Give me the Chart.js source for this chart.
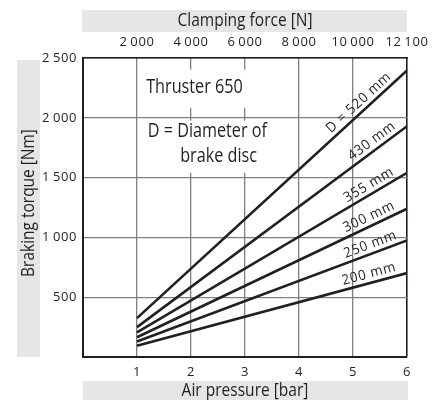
<!DOCTYPE html>
<html>
<head>
<meta charset="utf-8">
<script src="https://cdn.jsdelivr.net/npm/chart.js@4.4.0/dist/chart.umd.min.js"></script>
<style>
html, body { margin: 0; padding: 0; background: #fff; }
#wrap { width: 438px; height: 400px; position: relative; }
</style>
</head>
<body>
<div id="wrap"><canvas id="chart"></canvas></div>
<script>
// data
var pressure = [1, 6]; // bar, start and end of every line
var diameterLabels = ['D = 520 mm', '430 mm', '355 mm', '300 mm', '250 mm', '200 mm'];
var torqueAt1bar = [325, 250, 205, 165, 130, 95];
var torqueAt6bar = [2395, 1930, 1540, 1240, 975, 702];

var pressureTicks = [1, 2, 3, 4, 5, 6];
var forceTickLabels = ['2\u2009000', '4\u2009000', '6\u2009000', '8\u2009000', '10\u2009000', '12\u2009100'];
var torqueTicks = [500, 1000, 1500, 2000, 2500];
var torqueTickLabels = ['500', '1\u2009000', '1\u2009500', '2\u2009000', '2\u2009500'];

var INK = '#231f20';
var GRID = '#808080';
var BOX = '#e6e6e7';
var FONT = '"Open Sans", "Noto Sans", sans-serif';

var datasets = [];
for (let i = 0; i < diameterLabels.length; i++) {
    datasets.push({
        label: diameterLabels[i],
        data: [{x: pressure[0], y: torqueAt1bar[i]}, {x: pressure[1], y: torqueAt6bar[i]}],
        borderColor: INK,
        borderWidth: 2.6,
        pointRadius: 0,
        fill: false
    });
}

// where along each line its label sits (bar) - layout only
var labelAtX = [5.22, 5.45, 5.38, 5.37, 5.38, 5.34];

function condensedText(ctx, text, x, y, size, align, sx, rot) {
    ctx.save();
    ctx.translate(x, y);
    if (rot) ctx.rotate(rot);
    ctx.scale(sx, 1);
    ctx.font = size + 'px ' + FONT;
    ctx.fillStyle = INK;
    ctx.textAlign = align;
    ctx.textBaseline = 'middle';
    ctx.fillText(text, 0, 0);
    ctx.restore();
}

var decor = {
    id: 'decor',
    beforeDraw(chart) {
        const ctx = chart.ctx;
        ctx.save();
        ctx.fillStyle = BOX;
        ctx.fillRect(82, 10, 325, 22);
        ctx.fillRect(17, 60, 23, 297);
        ctx.fillRect(83, 381, 325, 19);
        condensedText(ctx, 'Clamping force [N]', 245, 21, 18.5, 'center', 0.84);
        condensedText(ctx, 'Air pressure [bar]', 245, 390.5, 18.5, 'center', 0.84);
        condensedText(ctx, 'Braking torque [Nm]', 29, 203, 18, 'center', 0.86, -Math.PI / 2);
        ctx.restore();
        ctx.letterSpacing = '0.6px';
    },
    beforeDatasetsDraw(chart) {
        const ctx = chart.ctx;
        const xs = chart.scales.x, ys = chart.scales.y;
        ctx.save();
        ctx.letterSpacing = '0px';
        ctx.fillStyle = '#fff';
        // white panels behind the notes (between the grid rows)
        let l = xs.getPixelForValue(1.06), r1 = xs.getPixelForValue(3.13), r2 = xs.getPixelForValue(3.65);
        ctx.fillRect(l, ys.getPixelForValue(2402), r1 - l, ys.getPixelForValue(2084) - ys.getPixelForValue(2402));
        ctx.fillRect(l, ys.getPixelForValue(1975), r2 - l, ys.getPixelForValue(1540) - ys.getPixelForValue(1975));
        condensedText(ctx, 'Thruster 650', xs.getPixelForValue(1.17), ys.getPixelForValue(2251), 19.5, 'left', 0.83);
        condensedText(ctx, 'D = Diameter of', xs.getPixelForValue(1.2), ys.getPixelForValue(1883), 19.5, 'left', 0.83);
        condensedText(ctx, 'brake disc', xs.getPixelForValue(1.8), ys.getPixelForValue(1674), 19.5, 'left', 0.83);
        ctx.restore();
    },
    afterDatasetsDraw(chart) {
        const ctx = chart.ctx;
        const xs = chart.scales.x, ys = chart.scales.y;
        ctx.save();
        for (let i = 0; i < diameterLabels.length; i++) {
            const x0 = xs.getPixelForValue(pressure[0]), y0 = ys.getPixelForValue(torqueAt1bar[i]);
            const x1 = xs.getPixelForValue(pressure[1]), y1 = ys.getPixelForValue(torqueAt6bar[i]);
            const a = Math.atan2(y1 - y0, x1 - x0);
            const t = (labelAtX[i] - pressure[0]) / (pressure[1] - pressure[0]);
            const px = x0 + (x1 - x0) * t, py = y0 + (y1 - y0) * t;
            const off = 9;
            const cx = px + Math.sin(a) * off, cy = py - Math.cos(a) * off;
            ctx.letterSpacing = '0.8px';
            condensedText(ctx, diameterLabels[i], cx, cy, 14, 'center', 0.95, a);
        }
        ctx.restore();
    }
};

new Chart(document.getElementById('chart'), {
    type: 'line',
    data: {datasets: datasets},
    plugins: [decor],
    options: {
        responsive: true,
        maintainAspectRatio: false,
        animation: false,
        layout: {padding: {left: 0, right: 31, top: 0, bottom: 0}},
        plugins: {legend: {display: false}, tooltip: {enabled: false}},
        scales: {
            x: {
                type: 'linear', position: 'bottom', min: 0, max: 6,
                afterBuildTicks: s => { s.ticks = pressureTicks.map(v => ({value: v})); },
                afterFit: s => { s.height = 43; },
                grid: {
                    color: c => (c.tick && c.tick.value === 6) ? INK : GRID,
                    lineWidth: c => (c.tick && c.tick.value === 6) ? 1.6 : 1.3,
                    drawTicks: false
                },
                border: {color: INK, width: 2},
                ticks: {color: INK, padding: 7, maxRotation: 0, font: {family: FONT, size: 13}}
            },
            x2: {
                type: 'linear', position: 'top', min: 0, max: 6,
                afterBuildTicks: s => { s.ticks = pressureTicks.map(v => ({value: v})); },
                afterFit: s => { s.height = 58; },
                grid: {display: false, drawTicks: false},
                border: {color: INK, width: 1.4},
                ticks: {
                    color: INK, padding: 8, maxRotation: 0, font: {family: FONT, size: 13},
                    callback: v => forceTickLabels[pressureTicks.indexOf(v)]
                }
            },
            y: {
                type: 'linear', min: 0, max: 2500,
                afterBuildTicks: s => { s.ticks = torqueTicks.map(v => ({value: v})); },
                afterFit: s => { s.width = 83; },
                grid: {
                    color: c => (c.tick && c.tick.value === 2500) ? INK : GRID,
                    lineWidth: 1.3,
                    drawTicks: false
                },
                border: {color: INK, width: 2},
                ticks: {
                    color: INK, padding: 6, font: {family: FONT, size: 13},
                    callback: v => torqueTickLabels[torqueTicks.indexOf(v)]
                }
            }
        }
    }
});
</script>
</body>
</html>
